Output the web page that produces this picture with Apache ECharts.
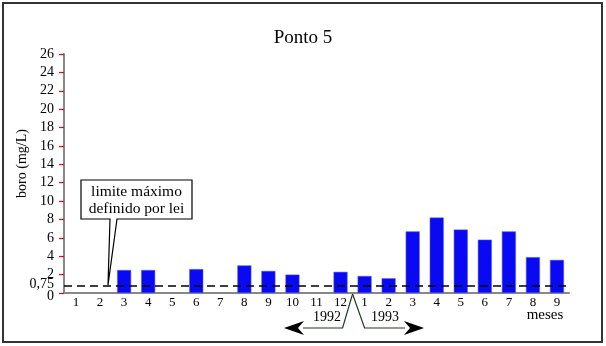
<!DOCTYPE html>
<html><head><meta charset="utf-8">
<script src="https://cdn.jsdelivr.net/npm/echarts@6/dist/echarts.min.js"></script>
<style>html,body{margin:0;padding:0;background:#fff}#c{width:606px;height:346px}</style>
</head><body><div id="c"></div>
<script>
const months = ['1','2','3','4','5','6','7','8','9','10','11','12','1','2','3','4','5','6','7','8','9'];
const boro = [null,null,2.5,2.5,null,2.6,null,3.0,2.4,2.0,null,2.3,1.85,1.6,6.7,8.2,6.9,5.8,6.7,3.9,3.6];
const limite = 0.75;
const limiteLabel = '0,75';
const years = ['1992','1993'];
const titleText = 'Ponto 5';
const yName = 'boro (mg/L)';
const xName = 'meses';
const calloutText = 'limite máximo\ndefinido por lei';

const FF = 'Liberation Serif';
const chart = echarts.init(document.getElementById('c'), null, {renderer:'canvas'});
chart.setOption({
  animation:false,
  backgroundColor:'#fff',
  title:{text:titleText,left:'center',top:24,textStyle:{fontFamily:FF,fontSize:19,fontWeight:'normal',color:'#000'}},
  grid:{left:64,top:54,width:505,height:239},
  xAxis:{type:'category',data:months,
    axisLine:{lineStyle:{color:'#888',width:2}},
    axisTick:{length:6,lineStyle:{color:'#f00',width:1},interval:(i)=>i!==12 && i!==0},
    axisLabel:{fontFamily:FF,fontSize:13,color:'#000',margin:3,interval:0}},
  yAxis:{type:'value',min:0,max:26,interval:2,
    name:yName,nameLocation:'middle',nameGap:33,
    nameTextStyle:{fontFamily:FF,fontSize:14,color:'#000',padding:[0,0,0,20]},
    axisLine:{show:true,lineStyle:{color:'#888',width:2}},
    axisTick:{show:true,length:5,lineStyle:{color:'#f00',width:1.2}},
    splitLine:{show:false},
    axisLabel:{fontFamily:FF,fontSize:14,color:'#000',margin:10,
      formatter:(v)=>v===0?'{z|0}':String(v),
      rich:{z:{fontFamily:FF,fontSize:14,color:'#000',padding:[6,0,0,0]}}}},
  series:[{type:'bar',data:boro,barWidth:14,
    itemStyle:{color:'#0a0af2',borderColor:'#5c5cff',borderWidth:0.5},
    markLine:{symbol:'none',silent:true,
      lineStyle:{type:[8,5],color:'#000',width:1.5},
      label:{position:'start',formatter:limiteLabel,fontFamily:FF,fontSize:14,color:'#000',distance:10,offset:[0,-1.5]},
      data:[{yAxis:limite}]}}]
});

const px = (i)=>chart.convertToPixel({xAxisIndex:0},i);
const py = (v)=>chart.convertToPixel({yAxisIndex:0},v);
const band = px(1)-px(0);
const tipX = px(1)+0.33*band, tipY = py(limite);
const apexX = (px(11)+px(12))/2, apexY = py(0)+1;
const baseY = 328;
const lineCol = '#1f3a1f';
chart.setOption({graphic:[
  {type:'rect',shape:{x:3,y:3,width:599,height:339},style:{fill:null,stroke:'#333',lineWidth:2},z:100},
  {type:'polygon',shape:{points:[[81,180],[192,180],[192,219],[117,219],[tipX,tipY-1],[110,219],[81,219]]},
    style:{fill:'#fff',stroke:'#000',lineWidth:1.2},z:50},
  {type:'text',x:136.5,y:200,style:{text:calloutText,fontFamily:FF,fontSize:15.5,lineHeight:17,fill:'#000',align:'center',verticalAlign:'middle'},z:51},
  {type:'polyline',shape:{points:[[apexX,apexY],[apexX-10,baseY],[303,baseY]]},style:{stroke:lineCol,lineWidth:1.2,fill:null},z:50},
  {type:'polyline',shape:{points:[[apexX,apexY],[apexX+12,baseY],[405,baseY]]},style:{stroke:lineCol,lineWidth:1.2,fill:null},z:50},
  {type:'polygon',shape:{points:[[284,baseY],[304,baseY-7],[298,baseY],[304,baseY+7]]},style:{fill:'#000'},z:50},
  {type:'polygon',shape:{points:[[424,baseY],[404,baseY-7],[410,baseY],[404,baseY+7]]},style:{fill:'#000'},z:50},
  {type:'text',x:327,y:317,style:{text:years[0],fontFamily:FF,fontSize:14,fill:'#000',align:'center',verticalAlign:'middle'},z:51},
  {type:'text',x:385,y:317,style:{text:years[1],fontFamily:FF,fontSize:14,fill:'#000',align:'center',verticalAlign:'middle'},z:51},
  {type:'text',x:545,y:315,style:{text:xName,fontFamily:FF,fontSize:15,fill:'#000',align:'center',verticalAlign:'middle'},z:51}
]});
</script></body></html>
